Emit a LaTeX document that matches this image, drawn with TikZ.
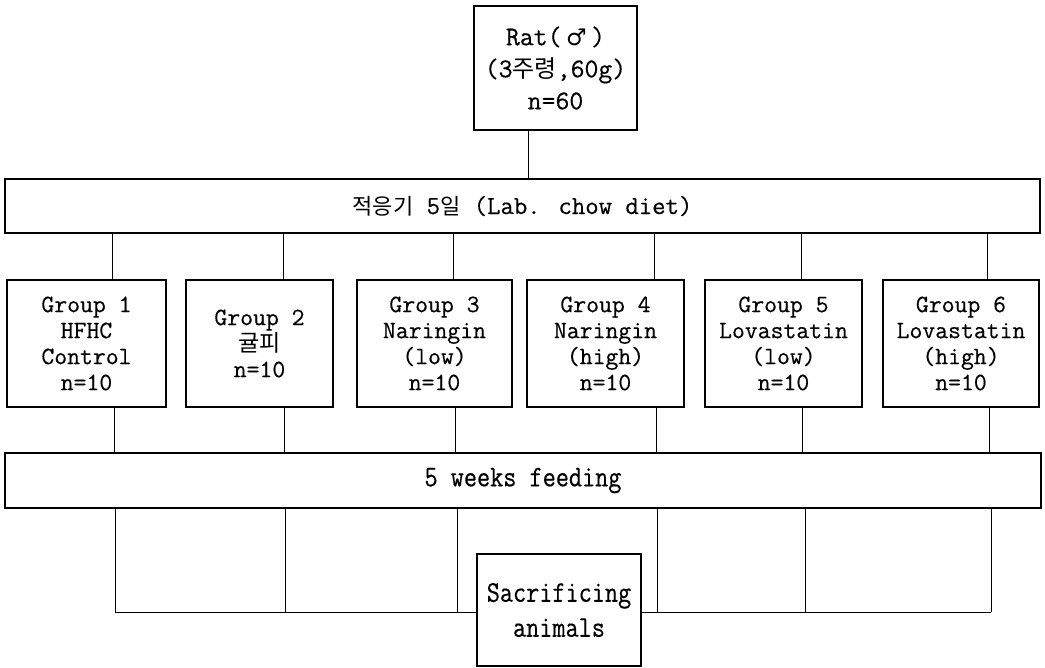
\documentclass[tikz,border=0pt]{standalone}
\usepackage{fontspec}
\setmainfont{Latin Modern Mono}
\newfontfamily\kr{Noto Sans CJK KR}
\newfontfamily\symf{DejaVu Sans}
\tikzset{
  box/.style={draw, line width=1.5pt, fill=white, inner sep=0pt, align=center,
    font=\fontsize{25}{26}\selectfont\addfontfeature{FakeBold=0.4}},
  conn/.style={line width=0.8pt},
  tallfont/.style={font=\fontsize{30}{35}\selectfont\addfontfeature{FakeStretch=0.85,FakeBold=0.4}}
}
\begin{document}
\begin{tikzpicture}[x=1pt,y=-1pt]
\useasboundingbox (0,0) rectangle (1045,668);
% top
\node[box, minimum width=163pt, minimum height=124pt, font=\fontsize{27}{32}\selectfont\addfontfeature{FakeBold=0.4}]
  (rat) at (555.5,68) {Rat(\,{\symf\fontsize{23}{32}\selectfont ♂}\,)\\(3{\kr\fontsize{24}{32}\selectfont 주령},60g)\\n=60};
\node[box, minimum width=1035pt, minimum height=54pt, font=\fontsize{26}{26}\selectfont\addfontfeature{FakeBold=0.4}] (adapt) at (522.5,206)
  {{\kr\fontsize{22}{26}\selectfont 적응기} 5{\kr\fontsize{22}{26}\selectfont 일} (Lab. chow diet)};
\coordinate (r0) at (528,0);
\draw[conn] (rat.south -| r0) -- (adapt.north -| r0);
% groups
\node[box, minimum width=159pt, minimum height=127pt] (g1) at (86.5,343.5) {Group 1\\HFHC\\Control\\n=10};
\node[box, minimum width=147pt, minimum height=127pt] (g2) at (259.5,343.5) {Group 2\\{\kr\fontsize{23}{26}\selectfont 귤피}\\n=10};
\node[box, minimum width=155pt, minimum height=127pt] (g3) at (434.5,343.5) {Group 3\\Naringin\\(low)\\n=10};
\node[box, minimum width=157pt, minimum height=127pt] (g4) at (605.5,343.5) {Group 4\\Naringin\\(high)\\n=10};
\node[box, minimum width=157pt, minimum height=127pt] (g5) at (783.5,343.5) {Group 5\\Lovastatin\\(low)\\n=10};
\node[box, minimum width=156pt, minimum height=127pt] (g6) at (961,343.5) {Group 6\\Lovastatin\\(high)\\n=10};
\node[box, minimum width=1036pt, minimum height=55pt, tallfont] (feed) at (523,480.5) {5 weeks feeding};
% connectors adapt -> groups
\foreach \g/\xa/\xb in {g1/112/114, g2/283/284, g3/453/455, g4/654/656, g5/801/802, g6/987/989}{
  \coordinate (a\g) at (\xa,0);
  \coordinate (c\g) at (\xb,0);
  \draw[conn] (adapt.south -| a\g) -- (\g.north -| a\g);
  \draw[conn] (\g.south -| c\g) -- (feed.north -| c\g);
}
% feed -> bottom line
\foreach \i/\xc in {1/115, 2/285, 3/457, 4/657, 5/805, 6/991}{
  \coordinate (b\i) at (\xc,612);
  \draw[conn] (feed.south -| b\i) -- (b\i);
}
\draw[conn] (b1) -- (b6);
\node[box, minimum width=164pt, minimum height=112pt, tallfont] (sac) at (559,610) {Sacrificing\\animals};
\end{tikzpicture}
\end{document}
